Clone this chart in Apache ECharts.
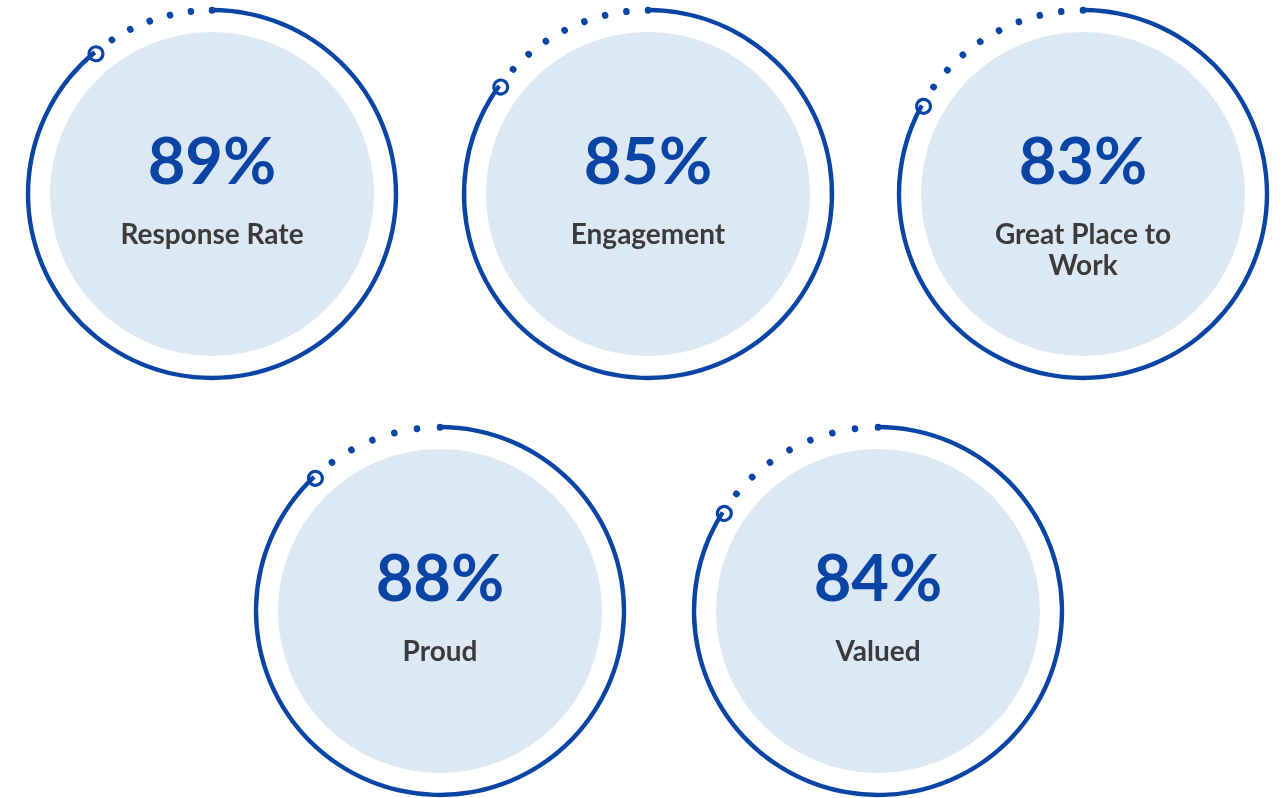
<!DOCTYPE html>
<html>
<head>
<meta charset="utf-8">
<title>Survey rings</title>
<script src="https://cdn.jsdelivr.net/npm/echarts@6/dist/echarts.min.js"></script>
<style>
  html, body { margin: 0; padding: 0; background: #fff; }
  #main { width: 1281px; height: 798px; }
</style>
</head>
<body>
<div id="main"></div>
<script>
// data
const labels = ['Response Rate', 'Engagement', 'Great Place to\nWork', 'Proud', 'Valued'];
const values = [89, 85, 83, 88, 84];

// layout (px)
const centers = [[212, 194], [648, 194], [1083, 194], [440, 611], [878, 611]];
const ringR = 184;      // centre line of the outer ring
const fillR = 162;      // light disc
const blue = '#0a45a6';
const fillColor = '#dde8f5';
const font = 'Lato, "Open Sans", sans-serif';

var myChart = echarts.init(document.getElementById('main'));
let series = [];

labels.forEach(function (name, i) {
    let v = values[i];
    let c = centers[i];
    let lines = name.split('\n').length;

    // light disc behind everything
    series.push({
        type: 'pie',
        silent: true,
        z: 1,
        center: c,
        radius: [0, fillR],
        label: { show: false },
        labelLine: { show: false },
        itemStyle: { color: fillColor },
        data: [{ name: name, value: v }]
    });

    // dotted remainder: ticks of a gauge that runs from the value back to the top
    series.push({
        type: 'gauge',
        silent: true,
        z: 3,
        center: c,
        radius: ringR,
        startAngle: 90 - v * 3.6,
        endAngle: -270,
        min: 0,
        max: 1,
        splitNumber: 1,
        axisLine: { show: false, lineStyle: { width: 0 } },
        progress: { show: false },
        pointer: { show: false },
        anchor: { show: false },
        splitLine: { show: false },
        axisLabel: { show: false },
        axisTick: {
            show: true,
            splitNumber: Math.max(1, Math.round((100 - v) / 2)),
            length: 0.5,
            distance: 0,
            lineStyle: { color: blue, width: 6.5, cap: 'round' }
        },
        title: { show: false },
        detail: { show: false },
        data: [{ value: 0 }]
    });

    // solid ring, end marker, numbers
    series.push({
        type: 'gauge',
        z: 5,
        center: c,
        radius: ringR + 2.2,
        startAngle: 90,
        endAngle: -270,
        min: 0,
        max: 100,
        axisLine: { show: false, lineStyle: { width: 0 } },
        progress: { show: true, width: 4.4, itemStyle: { color: blue } },
        itemStyle: { color: blue },
        pointer: {
            show: true,
            icon: 'circle',
            width: 14,
            length: 14,
            offsetCenter: [0, -(ringR - 2) + 7],
            itemStyle: { color: '#ffffff', borderColor: blue, borderWidth: 3.2 }
        },
        anchor: { show: false },
        splitLine: { show: false },
        axisTick: { show: false },
        axisLabel: { show: false },
        title: {
            show: true,
            offsetCenter: [0, 41 + 15.5 * (lines - 1)],
            fontSize: 28,
            fontWeight: 'bold',
            fontFamily: font,
            color: '#3b3b3b',
            lineHeight: 31
        },
        detail: {
            show: true,
            offsetCenter: [0, -31],
            formatter: '{value}%',
            fontSize: 65,
            fontWeight: 'bold',
            fontFamily: font,
            color: blue
        },
        data: [{ name: name, value: v }]
    });
});

let option = {
    backgroundColor: '#ffffff',
    animation: false,
    tooltip: { show: false },
    series: series
};
myChart.setOption(option);
</script>
</body>
</html>
